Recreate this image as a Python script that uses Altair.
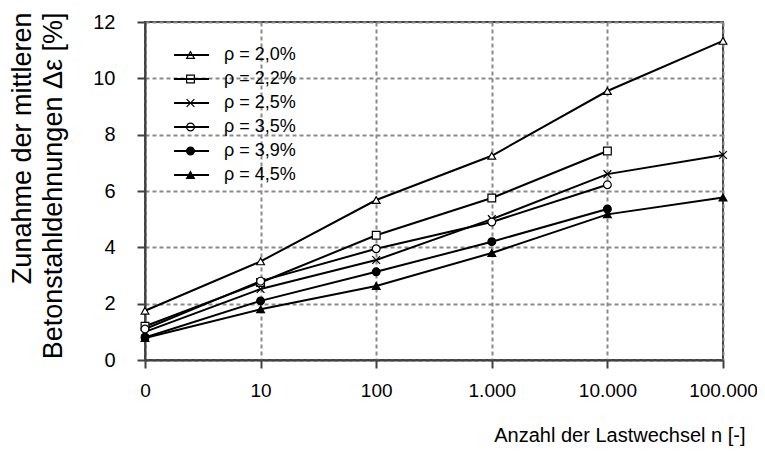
import altair as alt
import pandas as pd

x_labels = ["0", "10", "100", "1.000", "10.000", "100.000"]
series_names = ["ρ = 2,0%", "ρ = 2,2%", "ρ = 2,5%", "ρ = 3,5%", "ρ = 3,9%", "ρ = 4,5%"]
rho_20 = [1.75, 3.50, 5.68, 7.25, 9.55, 11.33]
rho_22 = [1.20, 2.75, 4.43, 5.75, 7.42, None]
rho_25 = [1.00, 2.52, 3.55, 5.00, 6.60, 7.28]
rho_35 = [1.10, 2.80, 3.95, 4.90, 6.22, None]
rho_39 = [0.80, 2.10, 3.13, 4.20, 5.36, None]
rho_45 = [0.78, 1.80, 2.63, 3.80, 5.17, 5.77]
all_series = [rho_20, rho_22, rho_25, rho_35, rho_39, rho_45]

shapes = ["triangle-up", "square", "M-1,-1L1,1M-1,1L1,-1", "circle", "circle", "triangle-up"]
fills = ["white", "white", "white", "white", "black", "black"]
stroke_widths = [1.2, 1.2, 2.2, 1.2, 1.2, 1.2]

rows = []
for name, vals in zip(series_names, all_series):
    for xl, v in zip(x_labels, vals):
        if v is not None:
            rows.append({"n": xl, "val": v, "series": name, "series_line": name})
df = pd.DataFrame(rows)

FONT = "Liberation Sans"

x_enc = alt.X(
    "n:N",
    sort=x_labels,
    scale=alt.Scale(type="point", padding=0),
    axis=alt.Axis(
        title="Anzahl der Lastwechsel n [-]",
        titleX=600, titleY=75, titleAlign="right", titleBaseline="middle",
        titleFontSize=20, titleFontWeight="normal", titleColor="black", titleFont=FONT,
        labelFontSize=19, labelFont=FONT, labelColor="black", labelAngle=0, labelPadding=13,
        tickSize=8, tickColor="#404040", tickWidth=2,
        domainColor="#404040", domainWidth=2,
        grid=True, gridColor="#8a8a8a", gridDash=[4, 3], gridWidth=2,
    ),
)
y_enc = alt.Y(
    "val:Q",
    scale=alt.Scale(domain=[0, 12], nice=False, zero=True),
    axis=alt.Axis(
        title=["Zunahme der mittleren", "Betonstahldehnungen Δε [%]"],
        titleX=-136, titleY=-10, titleAlign="right", titleBaseline="top", titleAngle=-90,
        titleLineHeight=31,
        titleFontSize=27, titleFontWeight="normal", titleColor="black", titleFont=FONT,
        values=[0, 2, 4, 6, 8, 10, 12],
        labelFontSize=20, labelFont=FONT, labelColor="black", labelPadding=22,
        tickSize=8, tickColor="#404040", tickWidth=2,
        domainColor="#404040", domainWidth=2,
        grid=True, gridColor="#8a8a8a", gridDash=[4, 3], gridWidth=2,
    ),
)

line_legend = alt.Legend(
    title=None, orient="none", legendX=28, legendY=23, padding=0,
    symbolType="stroke", symbolSize=1225, symbolStrokeWidth=2, symbolStrokeColor="black",
    clipHeight=20, rowPadding=4, labelOffset=14,
    labelFontSize=18, labelFont=FONT, labelColor="black",
)
shape_legend = alt.Legend(
    title=None, orient="none", legendX=28, legendY=23, padding=0,
    symbolSize=60, symbolOffset=13, clipHeight=20, rowPadding=4,
    symbolOpacity=1,
    labelFontSize=1, labelFont=FONT, labelOpacity=0,
)

lines = alt.Chart(df).mark_line(strokeWidth=2).encode(
    x=x_enc, y=y_enc,
    color=alt.Color("series_line:N", scale=alt.Scale(domain=series_names, range=["black"] * 6),
                    legend=line_legend),
)
points = alt.Chart(df).mark_point(filled=False, size=60, opacity=1).encode(
    x=x_enc, y=y_enc,
    shape=alt.Shape("series:N", scale=alt.Scale(domain=series_names, range=shapes), legend=shape_legend),
    fill=alt.Fill("series:N", scale=alt.Scale(domain=series_names, range=fills), legend=shape_legend),
    stroke=alt.Stroke("series:N", scale=alt.Scale(domain=series_names, range=["black"] * 6), legend=shape_legend),
    strokeWidth=alt.StrokeWidth("series:N", scale=alt.Scale(domain=series_names, range=stroke_widths),
                                legend=shape_legend),
)

chart = alt.layer(lines, points).resolve_legend(color="independent").properties(
    width=578, height=338,
    autosize=alt.AutoSizeParams(type="none"),
    padding={"left": 137, "top": 14, "right": 34, "bottom": 96},
    background="white",
).configure_view(stroke="#404040", strokeWidth=2)

chart.save("out.html", embed_options={"renderer": "svg", "actions": False})
